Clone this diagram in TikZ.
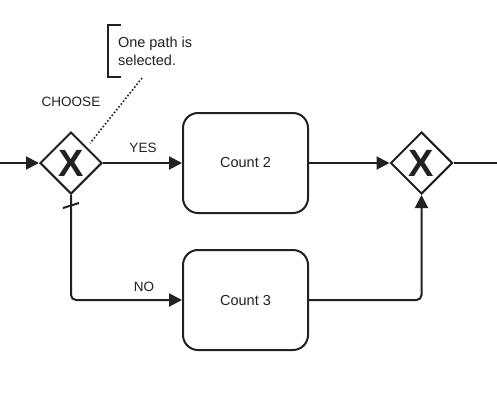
\documentclass[tikz,border=0pt]{standalone}
\usepackage{fontspec}
\setmainfont{Liberation Sans}
\usetikzlibrary{shapes.geometric,arrows.meta}

\begin{document}
\begin{tikzpicture}[x=1pt,y=-1pt,
    line width=2pt, color=black!87,
    gateway/.style={diamond, draw, aspect=1, inner sep=0pt,
        minimum width=62pt, minimum height=62pt,
        font=\fontsize{38}{38}\selectfont\bfseries},
    task/.style={draw, rounded corners=15pt, minimum width=125pt,
        minimum height=100pt, font=\fontsize{14.5}{17}\selectfont},
    flow/.style={-{Triangle[length=13pt,width=13pt]}, rounded corners=5pt},
    lbl/.style={font=\fontsize{13.5}{16}\selectfont, inner sep=0pt},
    note/.style={font=\fontsize{14.5}{18}\selectfont, align=left, inner sep=0pt}]
    \useasboundingbox (0,0) rectangle (497,408);
    % gateways and tasks
    \node[gateway] (choose) at (71,163) {X};
    \node[gateway] (merge) at (421.5,163) {X};
    \node[task] (count2) at (245.5,163) {Count 2};
    \node[task] (count3) at (245.5,300) {Count 3};
    \coordinate (start) at (0,163);
    \coordinate (end) at (497,163);
    % labels
    \node[lbl] (chooselbl) at (71,102) {CHOOSE};
    \node[lbl] (yes) at (143,148) {YES};
    \node[lbl] (no) at (144,287) {NO};
    % annotation
    \node[note, anchor=west] (remark) at (117,51) {One path is\\selected.};
    \draw (121,25) -- (108,25) -- (108,77) -- (121,77);
    \coordinate (remarktip) at (142,78);
    \draw[dotted, line width=1.6pt, shorten >=5pt] (remarktip) -- (choose.north east);
    % flows
    \draw[flow] (start) -- (choose.west);
    \draw[flow] (choose.east) -- (count2.west);
    \draw[flow] (choose.south) |- (count3.west);
    \draw[flow] (count2.east) -- (merge.west);
    \draw[flow] (count3.east) -| (merge.south);
    \draw (merge.east) -- (end);
    % default marker
    \draw ([xshift=-8pt,yshift=-13pt]choose.south) -- ([xshift=8pt,yshift=-8pt]choose.south);
\end{tikzpicture}
\end{document}
